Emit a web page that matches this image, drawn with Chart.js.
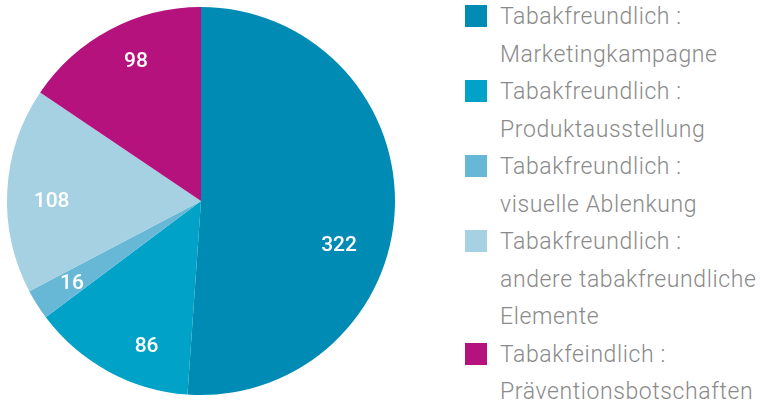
<!DOCTYPE html>
<html lang="de">
<head>
    <meta charset="UTF-8">
    <title>Tabak Kategorien</title>
    <script src="https://cdn.jsdelivr.net/npm/chart.js"></script>
    <style>
        body { margin: 0; padding: 0; background: #fff; width: 760px; height: 403px; overflow: hidden; position: relative; }
        #chart-box { position: absolute; left: 0; top: 0; width: 402px; height: 402px; }
        #legend { position: absolute; left: 465px; top: -2px; font-family: Roboto, sans-serif; font-weight: 300;
                  font-size: 23px; line-height: 37.5px; color: #8a8a8a; letter-spacing: 0.6px; }
        .item { position: relative; padding-left: 35px; white-space: nowrap; }
        .swatch { position: absolute; left: 0; top: 7px; width: 22px; height: 22px; }
    </style>
</head>
<body>
<div id="chart-box"><canvas id="pie"></canvas></div>
<div id="legend"></div>

<script>
    // data
    const categories = [
        ['Tabakfreundlich :', 'Marketingkampagne'],
        ['Tabakfreundlich :', 'Produktausstellung'],
        ['Tabakfreundlich :', 'visuelle Ablenkung'],
        ['Tabakfreundlich :', 'andere tabakfreundliche', 'Elemente'],
        ['Tabakfeindlich :', 'Präventionsbotschaften']
    ];
    const counts = [322, 86, 16, 108, 98];
    const colors = ['#008bb5', '#00a2c7', '#66b8d6', '#a5d1e3', '#b5127d'];

    // where the value sits inside its slice (share of the slice angle, share of the radius)
    const labelAngle = [0.584, 0.338, 0.477, 0.449, 0.557];
    const labelRadius = [0.746, 0.797, 0.789, 0.77, 0.798];

    // white value labels inside the slices
    const sliceLabels = {
        id: 'sliceLabels',
        afterDatasetsDraw(chart) {
            const ctx = chart.ctx;
            const meta = chart.getDatasetMeta(0);
            ctx.save();
            ctx.fillStyle = '#ffffff';
            ctx.font = '500 21px Roboto, sans-serif';
            ctx.textAlign = 'center';
            ctx.textBaseline = 'middle';
            meta.data.forEach((arc, i) => {
                const p = arc.getProps(['x', 'y', 'startAngle', 'endAngle', 'outerRadius'], true);
                const a = p.startAngle + (p.endAngle - p.startAngle) * labelAngle[i];
                const r = p.outerRadius * labelRadius[i];
                ctx.fillText(String(counts[i]), p.x + Math.cos(a) * r, p.y + Math.sin(a) * r + 1);
            });
            ctx.restore();
        }
    };

    new Chart(document.getElementById('pie'), {
        type: 'pie',
        data: {
            labels: categories.map(c => c.join(' ')),
            datasets: [{
                data: counts,
                backgroundColor: colors,
                borderWidth: 0
            }]
        },
        options: {
            responsive: true,
            maintainAspectRatio: false,
            animation: false,
            layout: { padding: 7 },
            plugins: {
                legend: { display: false },
                tooltip: { enabled: false }
            }
        },
        plugins: [sliceLabels]
    });

    // legend on the right
    const legend = document.getElementById('legend');
    categories.forEach((lines, i) => {
        const item = document.createElement('div');
        item.className = 'item';
        const sw = document.createElement('span');
        sw.className = 'swatch';
        sw.style.background = colors[i];
        item.appendChild(sw);
        lines.forEach(line => {
            const d = document.createElement('div');
            d.textContent = line;
            item.appendChild(d);
        });
        legend.appendChild(item);
    });
</script>
</body>
</html>
